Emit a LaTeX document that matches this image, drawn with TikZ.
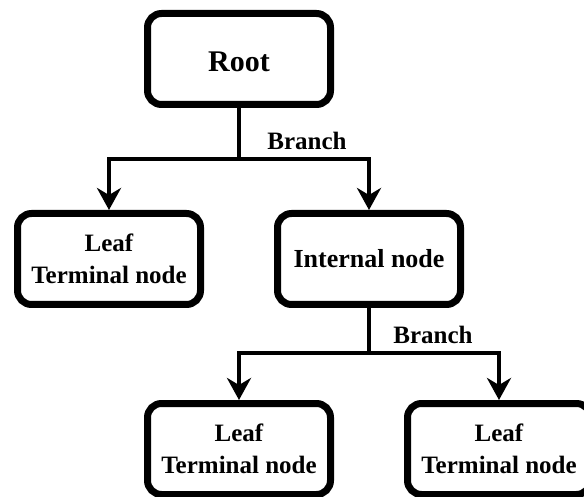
\documentclass[tikz,border=0pt]{standalone}
\usepackage{fontspec}
\setmainfont{Liberation Serif}
\usetikzlibrary{arrows.meta}
\begin{document}
\begin{tikzpicture}[x=1pt,y=1pt,
  box/.style={draw=black, line width=7pt, rounded corners=14pt, fill=white,
    minimum width=183pt, minimum height=91pt, align=center,
    font=\fontsize{25}{32}\selectfont\bfseries},
  conn/.style={line width=4pt, draw=black},
  arr/.style={conn, -{Stealth[length=22pt,width=24pt,inset=7pt]}},
  lbl/.style={font=\fontsize{25}{30}\selectfont\bfseries, anchor=base, inner sep=0pt}]
\useasboundingbox (0,0) rectangle (584,-497);
\node[box, text height=26pt, text depth=0pt, font=\fontsize{30}{36}\selectfont\bfseries] (root) at (239,-59) {Root};
\node[box] (leafa) at (109,-259) {Leaf\\Terminal node};
\node[box, font=\fontsize{26}{32}\selectfont\bfseries] (inner) at (369,-259) {Internal node};
\node[box] (leafb) at (239,-449) {Leaf\\Terminal node};
\node[box] (leafc) at (499,-449) {Leaf\\Terminal node};
\coordinate (ja) at (239,-159);
\coordinate (jb) at (369,-353);
\draw[conn] (root.south) -- (ja);
\draw[arr] (ja) -| (leafa.north);
\draw[arr] (ja) -| (inner.north);
\draw[conn] (inner.south) -- (jb);
\draw[arr] (jb) -| (leafb.north);
\draw[arr] (jb) -| (leafc.north);
\node[lbl] (b1) at (307,-150) {Branch};
\node[lbl] (b2) at (433,-343) {Branch};
\end{tikzpicture}
\end{document}
